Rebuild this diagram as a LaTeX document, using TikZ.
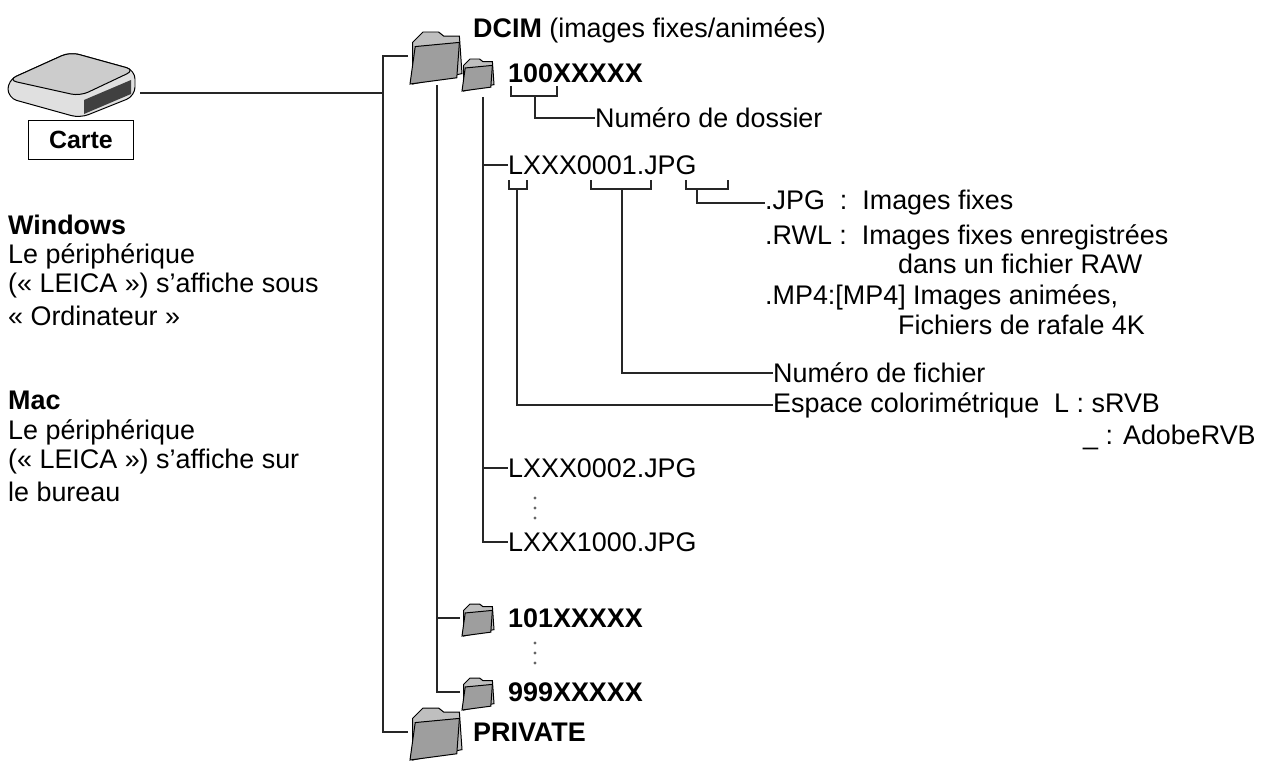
\documentclass[tikz,border=0pt]{standalone}
\usepackage{fontspec}
\setmainfont{Liberation Sans}
\usetikzlibrary{positioning}

\tikzset{
    tree/.style={line width=1.3pt, black!85},
    txt/.style={anchor=west, inner sep=0pt, font=\fontsize{27}{32}\selectfont},
    bold/.style={txt, font=\fontsize{27}{32}\selectfont\bfseries},
    pics/folder/.style={code={
        \draw[line width=1pt, fill=black!25] (-0.45,0.5) -- (-0.45,-0.3) -- (-0.25,-0.5) -- (0.05,-0.5) -- (0.15,-0.42) -- (0.45,-0.42) -- (0.5,0.3) -- cycle;
        \draw[line width=1pt, fill=black!38] (-0.5,0.5) -- (-0.4,-0.22) -- (0.45,-0.3) -- (0.4,0.38) -- cycle;
    }},
}

\begin{document}
\begin{tikzpicture}[x=1bp, y=-1bp]
    \useasboundingbox (0,0) rectangle (1271,781);

    % card reader
    \draw[line width=1pt, fill=black!12, rounded corners=9] (8,80) -- (70,52) -- (135,70) -- (135,96) -- (80,118) -- (8,98) -- cycle;
    \draw[line width=1pt, fill=black!20, rounded corners=9] (8,80) -- (70,52) -- (135,70) -- (80,96) -- cycle;
    \fill[black!75] (84,100) -- (131,80) -- (131,94) -- (84,114) -- cycle;
    \coordinate (card) at (140,93);
    \node[draw, line width=1pt, minimum width=106, minimum height=40, inner sep=0pt, font=\fontsize{25}{30}\selectfont\bfseries] (carte) at (81,140) {Carte};

    % left texts
    \node[bold] (win) at (8,225) {Windows};
    \node[txt] (w1) at (8,256) {Le périphérique};
    \node[txt] (w2) at (8,286) {(« LEICA ») s’affiche sous};
    \node[txt] (w3) at (8,316) {« Ordinateur »};
    \node[bold] (mac) at (8,400) {Mac};
    \node[txt] (m1) at (8,432) {Le périphérique};
    \node[txt] (m2) at (8,462) {(« LEICA ») s’affiche sur};
    \node[txt] (m3) at (8,492) {le bureau};

    % files
    \node[txt] (file1) at (508,165) {LXXX0001.JPG};
    \node[txt] (file2) at (508,468) {LXXX0002.JPG};
    \node[txt] (file3) at (508,542) {LXXX1000.JPG};

    % legends
    \node[txt] (dossier) at (595,118) {Numéro de dossier};
    \node[txt] (jpg) at (765,203) {.JPG\ \ :\ \ Images fixes};
    \node[txt] (rwl) at (765,237) {.RWL :\ \ Images fixes enregistrées};
    \node[txt] (rwl2) at (898,264) {dans un fichier RAW};
    \node[txt] (mp4) at (765,297) {.MP4:[MP4] Images animées,};
    \node[txt] (mp42) at (898,325) {Fichiers de rafale 4K};
    \node[txt] (numf) at (773,373) {Numéro de fichier};
    \node[txt] (esp) at (773,405) {Espace colorimétrique\ \ L : sRVB};
    \node[txt] (adobe) at (1083,437) {\_ : AdobeRVB};

    % tree lines
    \coordinate (t1) at (383,56);
    \draw[tree] (card) -- (383,93);
    \draw[tree] (408,56) -- (t1) -- (383,732) -- (408,732);
    \draw[tree] (437,85) -- (437,692) -- (460,692);
    \draw[tree] (437,73) -- (460,73);
    \draw[tree] (437,618) -- (460,618);
    \draw[tree] (483,97) -- (483,542) -- (file3.west);
    \draw[tree] (483,165) -- (file1.west);
    \draw[tree] (483,468) -- (file2.west);

    % folders
    \pic[scale=52] (fdcim) at (436,58) {folder};
    \pic[scale=32] (f100) at (478,75) {folder};
    \pic[scale=32] (f101) at (478,620) {folder};
    \pic[scale=32] (f999) at (478,694) {folder};
    \pic[scale=52] (fpriv) at (436,734) {folder};
    \node[txt] (dcim) at (473,30) {\textbf{DCIM} (images fixes/animées)};
    \node[bold] (d100) at (508,73) {100XXXXX};
    \node[bold] (d101) at (508,618) {101XXXXX};
    \node[bold] (d999) at (508,692) {999XXXXX};
    \node[bold] (priv) at (473,732) {PRIVATE};

    % brackets
    \draw[tree] (511,86) -- (511,96) -- (557,96) -- (557,86);
    \draw[tree] (535,96) -- (535,118) -- (dossier.west);
    \draw[tree] (509,180) -- (509,189) -- (527,189) -- (527,180);
    \draw[tree] (517,189) -- (517,405) -- (esp.west);
    \draw[tree] (591,180) -- (591,189) -- (651,189) -- (651,180);
    \draw[tree] (622,189) -- (622,373) -- (numf.west);
    \draw[tree] (686,180) -- (686,189) -- (728,189) -- (728,180);
    \draw[tree] (697,189) -- (697,203) -- (jpg.west);

    % dots
    \foreach \y in {498,508,518} \fill[black!60] (535,\y) circle (1.6);
    \foreach \y in {643,653,663} \fill[black!60] (535,\y) circle (1.6);
\end{tikzpicture}
\end{document}
